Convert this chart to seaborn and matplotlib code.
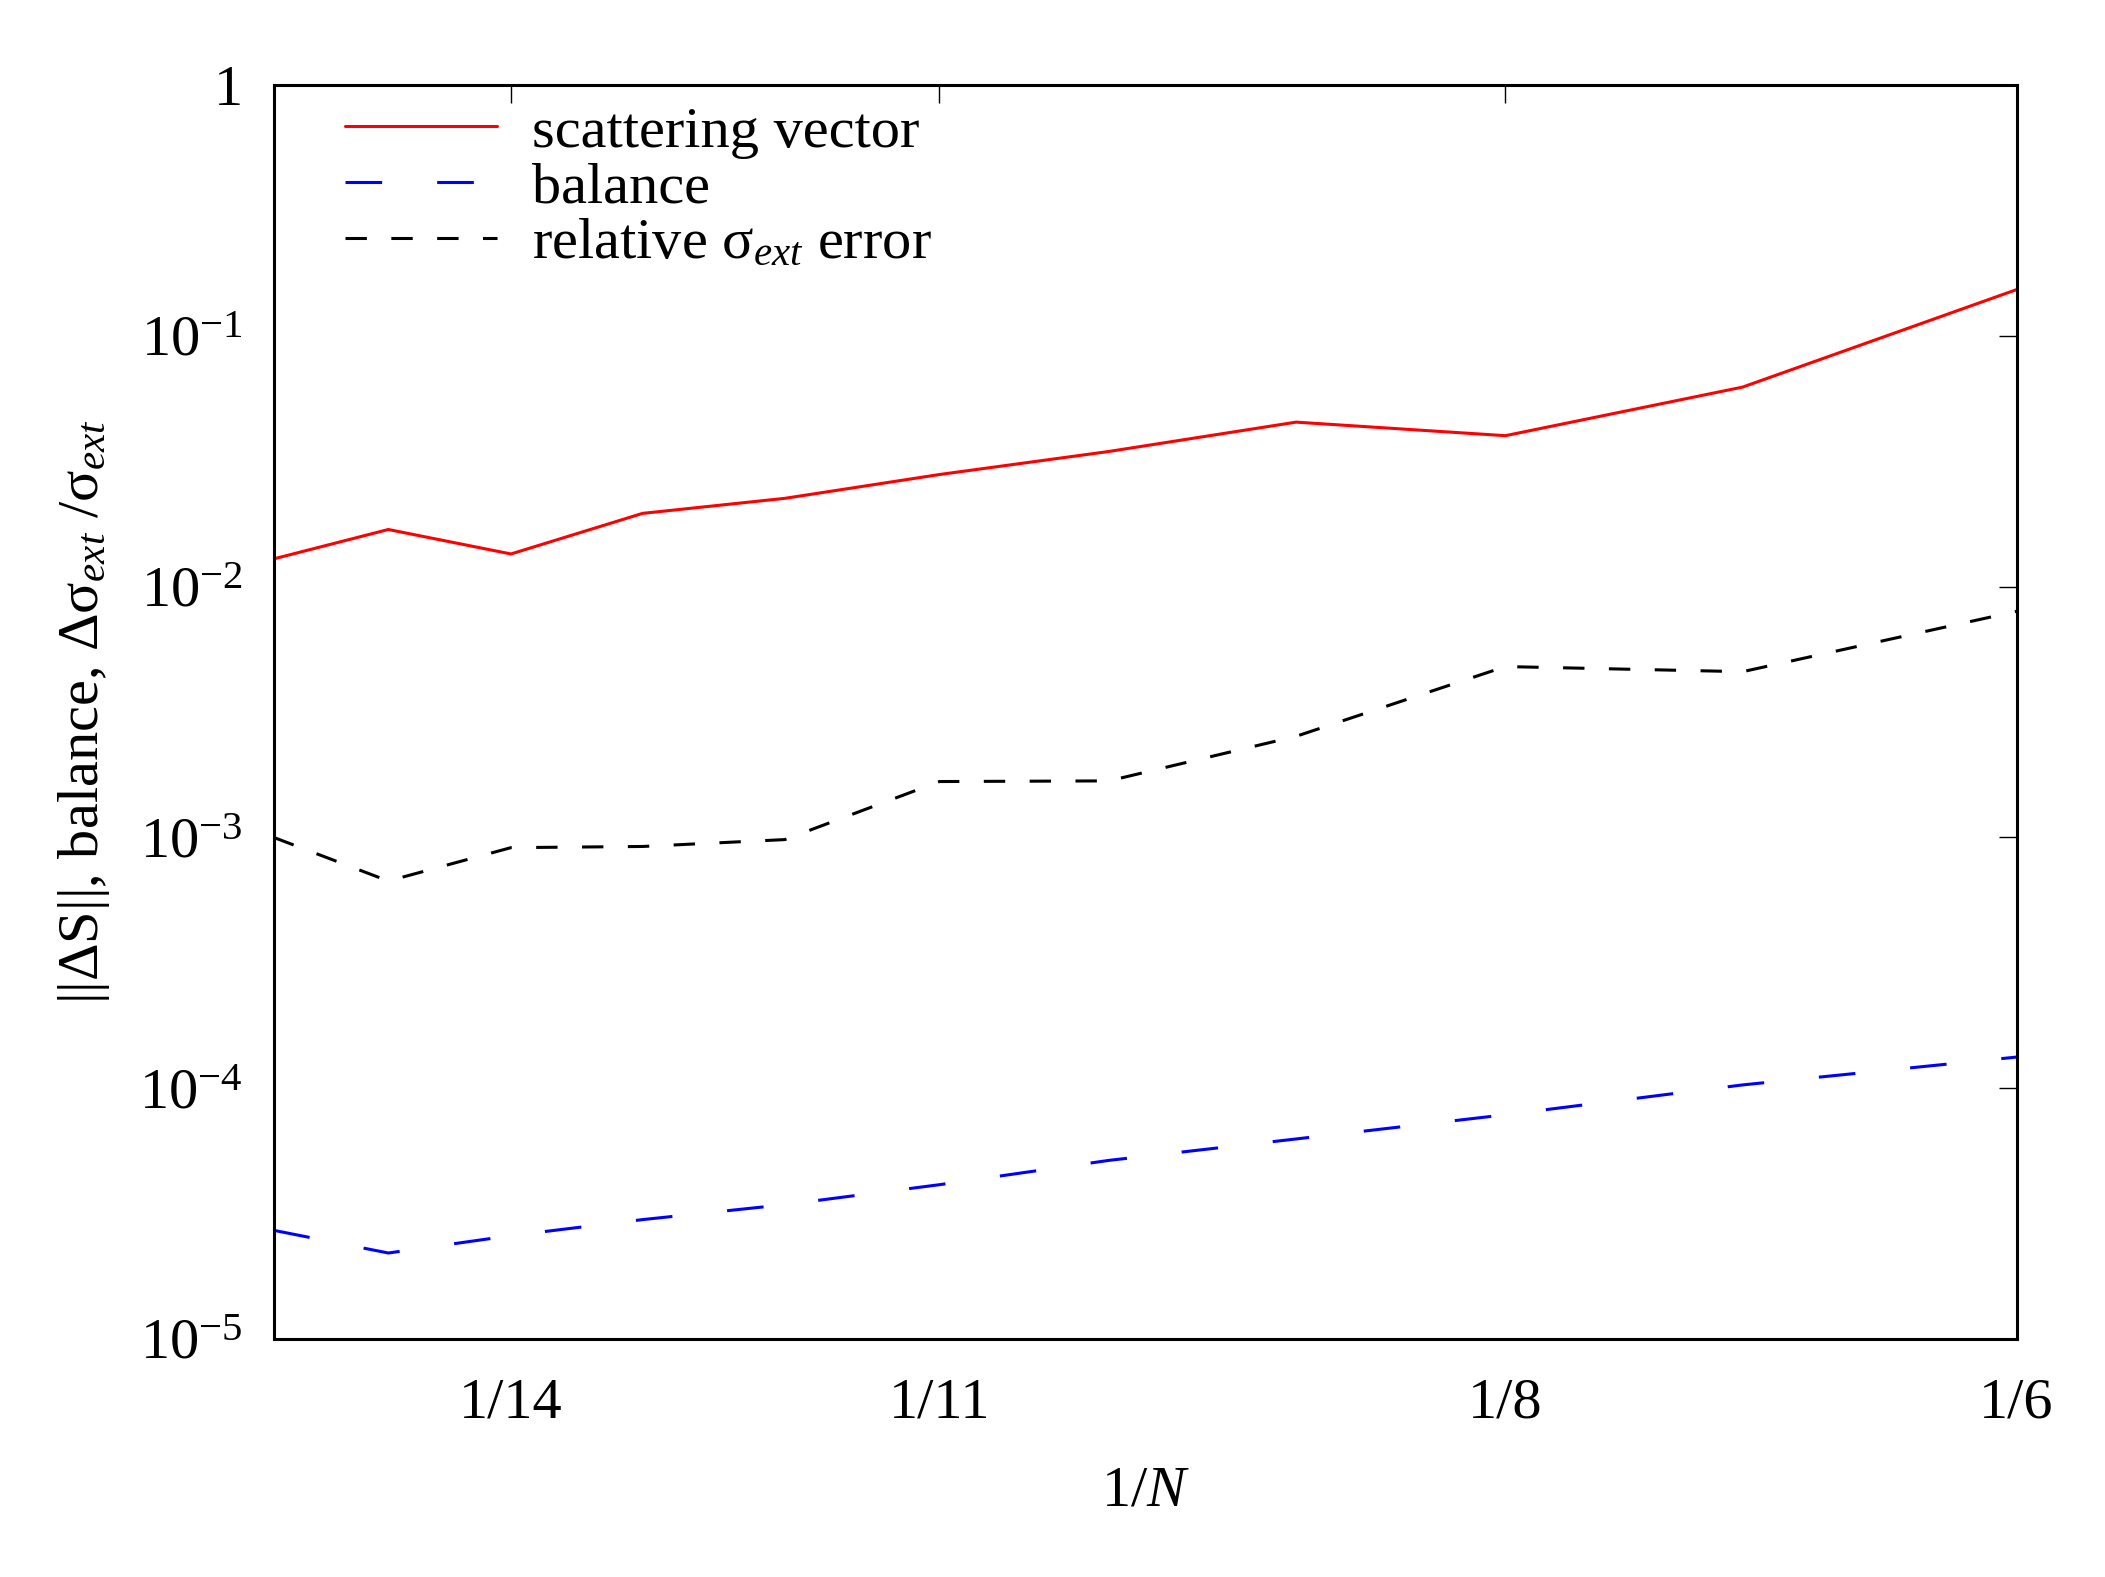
import numpy as np
import pandas as pd
import matplotlib
matplotlib.use("Agg")
import matplotlib.pyplot as plt
import seaborn as sns

# data
N = [16, 15, 14, 13, 12, 11, 10, 9, 8, 7, 6]
scattering = [0.0129, 0.0169, 0.0135, 0.0196, 0.0225, 0.028, 0.0346, 0.0453, 0.040, 0.0625, 0.153]
balance = [2.71e-5, 2.2e-5, 2.58e-5, 2.99e-5, 3.43e-5, 4.12e-5, 5.15e-5, 6.27e-5, 7.83e-5, 1.03e-4, 1.33e-4]
rel_sigma = [1.0e-3, 6.7e-4, 9.1e-4, 9.2e-4, 9.8e-4, 1.67e-3, 1.68e-3, 2.53e-3, 4.8e-3, 4.58e-3, 7.97e-3]

xtick_N = [14, 11, 8, 6]
xtick_labels = ["1/14", "1/11", "1/8", "1/6"]
ytick_vals = [1e-5, 1e-4, 1e-3, 1e-2, 1e-1, 1]
ytick_labels = ["$10^{-5}$", "$10^{-4}$", "$10^{-3}$", "$10^{-2}$", "$10^{-1}$", "1"]

sns.set_theme(style="white")
plt.rcParams["font.family"] = ["Liberation Serif", "DejaVu Serif"]
plt.rcParams["mathtext.fontset"] = "custom"
plt.rcParams["mathtext.rm"] = "Liberation Serif"
plt.rcParams["mathtext.it"] = "Liberation Serif:italic"
plt.rcParams["mathtext.bf"] = "Liberation Serif:bold"
for k in ["text.color", "axes.labelcolor", "xtick.color", "ytick.color", "axes.edgecolor"]:
    plt.rcParams[k] = "black"

x = 1.0 / np.array(N)
df = pd.DataFrame({"x": x, "scattering": scattering, "balance": balance, "rel": rel_sigma})

fig = plt.figure(figsize=(21.05, 15.77), dpi=100)
ax = fig.add_axes([0.130, 0.151, 0.828, 0.795])

lw = 2.2
sns.lineplot(data=df, x="x", y="scattering", ax=ax, color="red", lw=lw,
             label="scattering vector")
sns.lineplot(data=df, x="x", y="balance", ax=ax, color="blue", lw=lw,
             label="balance")
ax.lines[-1].set_dashes((12, 18))
sns.lineplot(data=df, x="x", y="rel", ax=ax, color="black", lw=lw,
             label=r"relative σ$_{ext}$ error")
ax.lines[-1].set_dashes((7, 8))

ax.set_xscale("log")
ax.set_yscale("log")
ax.set_xlim(1 / 16, 1 / 6)
ax.set_ylim(1e-5, 1)

ax.set_xticks(1.0 / np.array(xtick_N))
ax.set_xticklabels(xtick_labels)
ax.xaxis.set_minor_locator(matplotlib.ticker.NullLocator())
ax.set_yticks(ytick_vals)
ax.set_yticklabels(ytick_labels)
ax.yaxis.set_minor_locator(matplotlib.ticker.NullLocator())

ax.tick_params(axis="both", which="major", direction="in", length=13, width=1.0,
               top=True, right=True, labelsize=42, color="black")
ax.tick_params(axis="x", pad=28)
ax.tick_params(axis="y", pad=22)

for s in ax.spines.values():
    s.set_visible(True)
    s.set_color("black")
    s.set_linewidth(2.2)

ax.set_xlabel("1/$N$", fontsize=42, labelpad=26)
ax.set_ylabel(r"||ΔS||, balance, Δσ$_{ext}$ /σ$_{ext}$", fontsize=42, labelpad=20)

leg = ax.legend(loc="upper left", frameon=False, fontsize=42, handlelength=2.6,
                handletextpad=0.6, labelspacing=0.05, borderaxespad=0.0,
                bbox_to_anchor=(0.0275, 1.002))
for t in leg.get_texts():
    t.set_color("black")

fig.savefig("out.png", dpi=100)
